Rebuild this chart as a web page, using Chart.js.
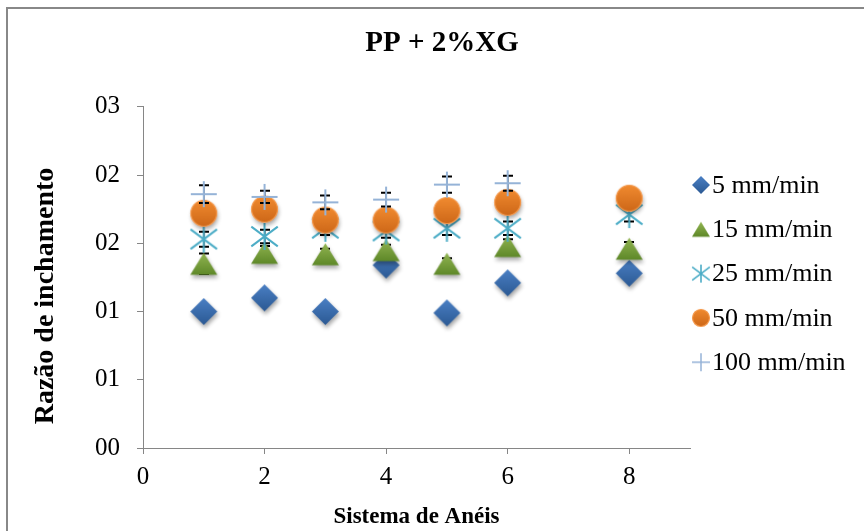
<!DOCTYPE html>
<html>
<head>
<meta charset="utf-8">
<script src="https://cdn.jsdelivr.net/npm/chart.js@4.4.1/dist/chart.umd.min.js"></script>
<style>
  html, body { margin: 0; padding: 0; background: #fff; }
  #frame { position: absolute; left: 6px; top: 7px; width: 900px; height: 600px;
           border-left: 2px solid #888; border-top: 2px solid #888; }
  #wrap { position: absolute; left: 0; top: 0; width: 864px; height: 531px; overflow: hidden; }
</style>
</head>
<body>
<div id="frame"></div>
<div id="wrap"><canvas id="swellChart" width="864" height="531"></canvas></div>
<script>
// ring systems on the x axis
const ringSystems = [1, 2, 3, 4, 5, 6, 8];
const ringSystems100 = [1, 2, 3, 4, 5, 6];

const seriesNames = ['5 mm/min', '15 mm/min', '25 mm/min', '50 mm/min', '100 mm/min'];

// swelling ratio
const rate5   = [1.00, 1.10, 1.00, 1.34, 0.99, 1.21, 1.28];
const rate15  = [1.35, 1.43, 1.42, 1.45, 1.35, 1.48, 1.46];
const rate25  = [1.53, 1.55, 1.61, 1.59, 1.61, 1.61, 1.71];
const rate50  = [1.72, 1.75, 1.67, 1.67, 1.74, 1.80, 1.83];
const rate100 = [1.86, 1.84, 1.80, 1.82, 1.93, 1.94];

// error bar half-lengths
const err5   = [0.04, 0.04, 0.04, 0.04, 0.04, 0.04, 0.04];
const err15  = [0.075, 0.05, 0.04, 0.04, 0.04, 0.05, 0.05];
const err25  = [0.055, 0.05, 0.05, 0.05, 0.05, 0.05, 0.05];
const err50  = [0.06, 0.06, 0.06, 0.06, 0.06, 0.06, 0.06];
const err100 = [0.065, 0.045, 0.05, 0.05, 0.06, 0.055];

const yTickLabels = ['00', '01', '01', '02', '02', '03'];
const yStep = 0.5;
const yTitle = 'Razão de inchamento';

const serif = "'Liberation Serif', 'Times New Roman', serif";

function makeMarker(kind, size, shadow) {
  const pad = shadow ? 7 : 2;
  const c = document.createElement('canvas');
  c.width = c.height = size + pad * 2;
  const g = c.getContext('2d');
  const m = c.width / 2, h = size / 2;
  if (shadow) {
    g.shadowColor = 'rgba(0,0,0,0.35)';
    g.shadowBlur = 4;
    g.shadowOffsetX = 1;
    g.shadowOffsetY = 3;
  }
  let grad;
  if (kind === 'diamond') {
    grad = g.createLinearGradient(0, m - h, 0, m + h);
    grad.addColorStop(0, '#4a7fc4');
    grad.addColorStop(1, '#2b5993');
    g.beginPath();
    g.moveTo(m, m - h); g.lineTo(m + h, m); g.lineTo(m, m + h); g.lineTo(m - h, m);
    g.closePath();
    g.fillStyle = grad; g.fill();
  } else if (kind === 'triangle') {
    const th = size * 0.41;
    grad = g.createLinearGradient(0, m - th, 0, m + th);
    grad.addColorStop(0, '#92b552');
    grad.addColorStop(1, '#5e8828');
    g.beginPath();
    g.moveTo(m, m - th); g.lineTo(m + h, m + th); g.lineTo(m - h, m + th);
    g.closePath();
    g.fillStyle = grad; g.fill();
  } else if (kind === 'circle') {
    grad = g.createLinearGradient(0, m - h, 0, m + h);
    grad.addColorStop(0, '#f18b30');
    grad.addColorStop(1, '#cd6718');
    g.beginPath();
    g.arc(m, m, h - 0.5, 0, Math.PI * 2);
    g.fillStyle = grad; g.fill();
    g.shadowColor = 'transparent';
    g.lineWidth = 1.2; g.strokeStyle = '#f59a4e'; g.stroke();
  } else if (kind === 'asterisk') {
    const d = h * 0.98;
    g.strokeStyle = '#4bacc6';
    g.lineWidth = size > 20 ? 2 : 1.6;
    g.beginPath();
    g.moveTo(m - d, m - d * 0.75); g.lineTo(m + d, m + d * 0.75);
    g.moveTo(m - d, m + d * 0.75); g.lineTo(m + d, m - d * 0.75);
    g.moveTo(m, m - h); g.lineTo(m, m + h);
    g.stroke();
  } else if (kind === 'plus') {
    g.strokeStyle = '#95b3d7';
    g.lineWidth = size > 20 ? 2 : 1.5;
    g.beginPath();
    g.moveTo(m - h, m); g.lineTo(m + h, m);
    g.moveTo(m, m - h); g.lineTo(m, m + h);
    g.stroke();
  }
  return c;
}

function points(xs, ys) {
  return xs.map((x, i) => ({ x: x, y: ys[i] }));
}

const kinds = ['diamond', 'triangle', 'asterisk', 'circle', 'plus'];
const xsList = [ringSystems, ringSystems, ringSystems, ringSystems, ringSystems100];
const ysList = [rate5, rate15, rate25, rate50, rate100];
const errList = [err5, err15, err25, err50, err100];

const datasets = seriesNames.map((name, i) => ({
  label: name,
  data: points(xsList[i], ysList[i]),
  errors: errList[i],
  pointStyle: makeMarker(kinds[i], i === 4 ? 26 : 27, i !== 4 && i !== 2),
  legendMarker: makeMarker(kinds[i], 18, false),
  pointRadius: 13,
  pointHoverRadius: 13,
  showLine: false,
  order: 4 - i
}));

const errorBars = {
  id: 'errorBars',
  beforeDatasetDraw(chart, args) {
    const ds = chart.data.datasets[args.index];
    if (!ds.errors) return;
    const ctx = chart.ctx;
    const xs = chart.scales.x, ys = chart.scales.y;
    ctx.save();
    ctx.strokeStyle = '#000';
    ds.data.forEach((p, i) => {
      const px = Math.round(xs.getPixelForValue(p.x));
      const top = ys.getPixelForValue(p.y + ds.errors[i]);
      const bot = ys.getPixelForValue(p.y - ds.errors[i]);
      ctx.lineWidth = 1;
      ctx.beginPath();
      ctx.moveTo(px, top); ctx.lineTo(px, bot);
      ctx.stroke();
      ctx.lineWidth = 2;
      ctx.beginPath();
      ctx.moveTo(px - 5, top); ctx.lineTo(px + 5, top);
      ctx.moveTo(px - 5, bot); ctx.lineTo(px + 5, bot);
      ctx.stroke();
    });
    ctx.restore();
  }
};

// legend on the right and the y title, which sits a little below the plot centre
const sideText = {
  id: 'sideText',
  afterDraw(chart) {
    const ctx = chart.ctx;
    const left = chart.chartArea.right;
    ctx.save();
    ctx.font = '26px ' + serif;
    ctx.fillStyle = '#000';
    ctx.textBaseline = 'middle';
    ctx.textAlign = 'left';
    chart.data.datasets.forEach((ds, i) => {
      const yy = 185 + i * 44.3;
      const img = ds.legendMarker;
      ctx.drawImage(img, left + 11 - img.width / 2, yy - img.height / 2);
      ctx.fillText(ds.label, left + 22, yy + 1);
    });
    ctx.translate(46, 296);
    ctx.rotate(-Math.PI / 2);
    ctx.textAlign = 'center';
    ctx.font = 'bold 28px ' + serif;
    ctx.fillText(yTitle, 0, 0);
    ctx.restore();
  }
};

new Chart(document.getElementById('swellChart'), {
  type: 'scatter',
  data: { datasets: datasets },
  plugins: [errorBars, sideText],
  options: {
    responsive: false,
    animation: false,
    devicePixelRatio: 1,
    layout: { padding: { left: 20, right: 0, top: 0, bottom: 0 } },
    plugins: {
      legend: { display: false },
      tooltip: { enabled: false },
      title: {
        display: true,
        text: 'PP + 2%XG',
        color: '#000',
        font: { family: serif, size: 29, weight: 'bold', lineHeight: 1.2 },
        padding: { top: 26, bottom: 46 }
      }
    },
    scales: {
      x: {
        type: 'linear',
        min: 0,
        max: 9,
        ticks: { stepSize: 2, includeBounds: false, color: '#000', padding: 8,
                 font: { family: serif, size: 25 } },
        grid: { drawOnChartArea: false, tickLength: 6, color: '#868686' },
        border: { color: '#868686', width: 1 },
        title: { display: true, text: 'Sistema de Anéis', color: '#000',
                 font: { family: serif, size: 23, weight: 'bold', lineHeight: 1.2 },
                 padding: { top: 0, bottom: 0 } },
        afterFit(s) { s.height = 83; }
      },
      y: {
        min: 0,
        max: 2.5,
        ticks: { stepSize: yStep, color: '#000', padding: 17,
                 font: { family: serif, size: 25 },
                 callback: (v) => yTickLabels[Math.round(v / yStep)] },
        grid: { drawOnChartArea: false, tickLength: 6, color: '#868686' },
        border: { color: '#868686', width: 1 },
        afterFit(s) { s.width = 123; }
      },
      yRight: {
        position: 'right',
        display: true,
        min: 0,
        max: 1,
        ticks: { display: false },
        grid: { display: false },
        border: { display: false },
        afterFit(s) { s.width = 174; }
      }
    }
  }
});
</script>
</body>
</html>
